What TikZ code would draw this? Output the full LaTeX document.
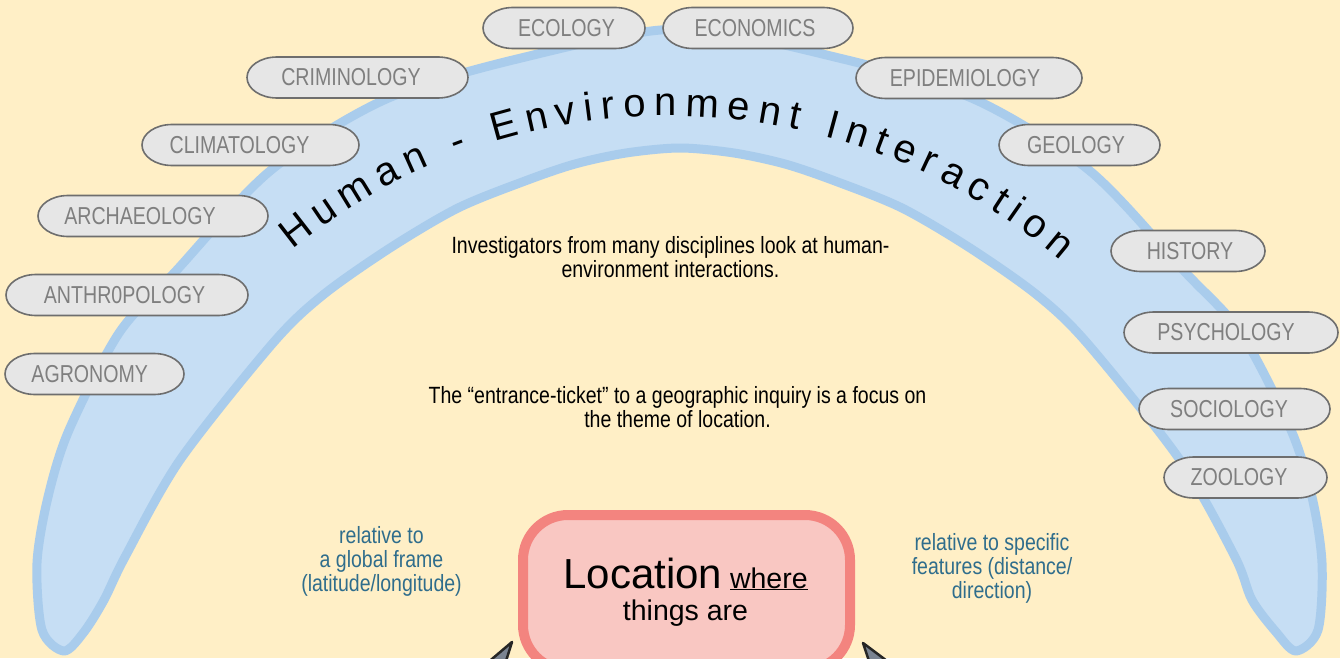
\documentclass[tikz,border=0pt]{standalone}
\usepackage{fontspec}
\setmainfont{Liberation Sans}
\newfontfamily\pillfam[FakeStretch=0.80]{Liberation Sans}
\newfontfamily\bodyfam[FakeStretch=0.83]{Liberation Sans}
\newfontfamily\titlefam{Liberation Sans}
\newcommand\titlefont{\titlefam\fontsize{40}{40}\selectfont}
\usetikzlibrary{decorations.text}
\definecolor{bgc}{HTML}{FFEFC6}
\definecolor{bandfill}{HTML}{C6DEF4}
\definecolor{bandline}{HTML}{A9CCEC}
\definecolor{pillfill}{HTML}{E6E6E6}
\definecolor{pillline}{HTML}{6E6E6E}
\definecolor{pilltext}{HTML}{7F7F7F}
\definecolor{bluetext}{HTML}{2F6D8C}
\definecolor{locfill}{HTML}{F9C7C2}
\definecolor{locline}{HTML}{F3847F}
\definecolor{arrowfill}{HTML}{7A8391}
\tikzset{
  pillshape/.style={fill=pillfill, draw=pillline, line width=1.6pt},
  pilllabel/.style={inner sep=0pt, text=pilltext, font=\pillfam\fontsize{24.5}{26}\selectfont},
  bodytext/.style={inner sep=0pt, align=center, text=black, font=\bodyfam\fontsize{23.5}{24}\selectfont},
  bluetextstyle/.style={inner sep=0pt, align=center, text=bluetext, font=\bodyfam\fontsize{23.5}{23.8}\selectfont},
  bandstyle/.style={fill=bandfill, draw=bandline, line width=9pt, line join=round},
  locbox/.style={fill=locfill, draw=locline, line width=10pt, rounded corners=45pt, inner sep=0pt},
  arrowshape/.style={fill=arrowfill, draw=black!85, line width=2.5pt, line join=round}
}
% name, cx, cy, width, text x, text
\newcommand\pill[6]{%
  \filldraw[pillshape] ({#2-#4/2+30},{#3-20.5}) -- ({#2+#4/2-30},{#3-20.5})
     arc[start angle=90,end angle=-90,x radius=30pt,y radius=20.5pt]
     -- ({#2-#4/2+30},{#3+20.5})
     arc[start angle=270,end angle=90,x radius=30pt,y radius=20.5pt] -- cycle;
  \node[pilllabel] (#1) at (#5,#3) {#6};
}
\begin{document}
\begin{tikzpicture}[x=1pt,y=-1pt]
\useasboundingbox (0,0) rectangle (1340,658);
\fill[bgc] (0,0) rectangle (1340,658);
\clip (0,0) rectangle (1340,658);

% band
\filldraw[bandstyle] plot[smooth cycle, tension=0.5] coordinates {
 (64,651) (42,630) (37,563) (48,497) (69,430) (119,333) (175,272) (270,171)
 (384,100) (517,59) (680,29) (843,59) (976,100) (1090,171) (1185,272) (1241,333)
 (1291,430) (1312,497) (1322,563) (1318,630) (1296,651) (1276,632) (1252,600)
 (1235,557) (1180,460) (1087,343) (1037,295) (970,248) (902,208) (835,181)
 (785,164) (734,153) (680,148) (626,153) (575,164) (525,181) (458,208) (390,248) (323,295)
 (273,343) (180,460) (125,557) (104,600) (84,632)};

% title along the band
\path[decorate, decoration={text along path,
  text={|\titlefont|Human - Environment Interaction}, text align=fit to path}]
  plot[domain=129:49.3, samples=90, variable=\t] ({669.7+600*cos(\t)},{715.9-600*sin(\t)});

% discipline pills
\pill{ecology}{564}{28}{162}{566.5}{ECOLOGY}
\pill{economics}{758}{28}{190}{755}{ECONOMICS}
\pill{criminology}{357.5}{77.5}{221}{351}{CRIMINOLOGY}
\pill{climatology}{250.5}{145}{217}{239.5}{CLIMATOLOGY}
\pill{archaeology}{153}{216}{230}{140}{ARCHAEOLOGY}
\pill{anthropology}{127}{295}{242}{124.5}{ANTHR0POLOGY}
\pill{agronomy}{94.5}{374}{179}{89.7}{AGRONOMY}
\pill{epidemiology}{969}{78}{226}{965}{EPIDEMIOLOGY}
\pill{geology}{1079.5}{145}{161}{1076}{GEOLOGY}
\pill{history}{1188}{251}{154}{1190}{HISTORY}
\pill{psychology}{1231}{332.5}{214}{1226}{PSYCHOLOGY}
\pill{sociology}{1234.5}{409}{191}{1229}{SOCIOLOGY}
\pill{zoology}{1245.5}{477.5}{163}{1239}{ZOOLOGY}

% body texts (base anchor = baseline of the last line)
\node[bodytext, anchor=base] (investigators) at (670.5,277)
  {Investigators from many disciplines look at human-\\environment interactions.};
\node[bodytext, anchor=base] (ticket) at (677.5,427)
  {The “entrance-ticket” to a geographic inquiry is a focus on\\the theme of location.};
\node[bluetextstyle, anchor=base] (global) at (381.5,591)
  {relative to\\a global frame\\(latitude/longitude)};
\node[bluetextstyle, anchor=base] (specific) at (992,598)
  {relative to specific\\features (distance/\\direction)};

% location box
\node[locbox, minimum width=327pt, minimum height=155pt] (loc) at (686.5,592.5) {};
\node[inner sep=0pt, align=center, anchor=base, font=\fontsize{28.5}{32}\selectfont] (loctext) at (685.5,620)
  {{\fontsize{42}{42}\selectfont Location} \underline{where}\\things are};

% arrow tips entering from below
\coordinate (lt) at (512,642);
\coordinate (lb1) at (466,681);
\coordinate (lb2) at (494,699);
\filldraw[arrowshape] (lt) -- (lb1) -- (lb2) -- cycle;
\coordinate (rt) at (863,643);
\coordinate (rb1) at (882,700);
\coordinate (rb2) at (911,679);
\filldraw[arrowshape] (rt) -- (rb1) -- (rb2) -- cycle;
\end{tikzpicture}
\end{document}
